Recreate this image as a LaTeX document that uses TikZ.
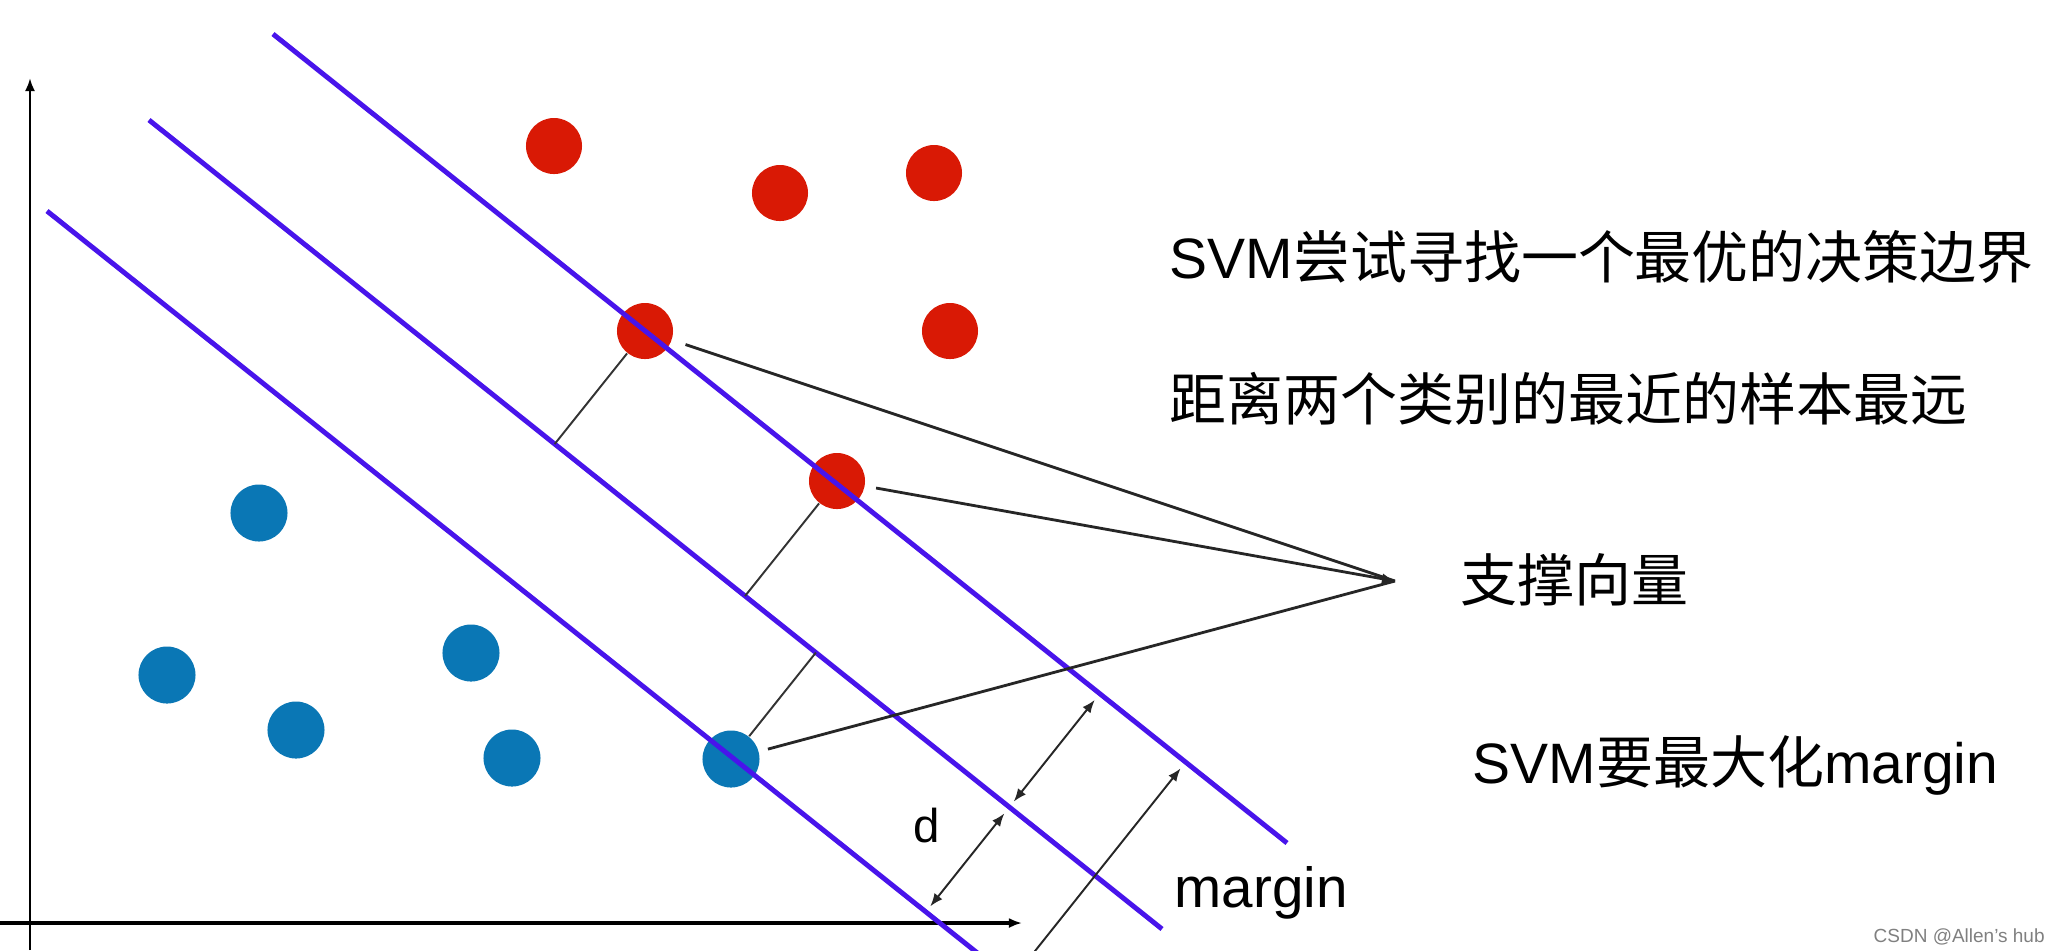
\documentclass[tikz,border=0pt]{standalone}
\usepackage{fontspec}
\setmainfont{Liberation Sans}
\newfontfamily\cjk{Noto Sans CJK SC}
\usetikzlibrary{positioning, arrows.meta, calc}

\definecolor{svred}{RGB}{217,25,5}
\definecolor{svblue}{RGB}{10,119,181}
\definecolor{bline}{RGB}{72,20,235}

\begin{document}
\begin{tikzpicture}[x=0.01cm, y=-0.01cm,
    reddot/.style={circle, fill=svred, minimum size=5.6mm, inner sep=0},
    bluedot/.style={circle, fill=svblue, minimum size=5.7mm, inner sep=0},
    bound/.style={bline, line width=1.4pt},
    foot/.style={black!80, line width=0.55pt},
    pointer/.style={black!85, line width=0.8pt},
    gap/.style={black!85, line width=0.55pt, {Latex[length=1.3mm,width=1mm]}-{Latex[length=1.3mm,width=1mm]}, shorten <=0.07cm, shorten >=0.08cm},
    axis/.style={black, line width=0.7pt, -{Latex[length=1.3mm,width=1mm]}},
    txt/.style={inner sep=0, anchor=base west, font=\fontsize{16.2pt}{19pt}\selectfont}]
    \clip (0,0) rectangle (2050,950);
    \fill[white] (0,0) rectangle (2050,950);

    % Axes
    \coordinate (o) at (30,950);
    \coordinate (ytop) at (30,78);
    \coordinate (xl) at (0,923);
    \coordinate (xr) at (1022,923);
    \draw[axis] (o) -- (ytop);
    \draw[axis, line width=0.9pt] (xl) -- (xr);

    % Samples
    \node[reddot] (r1) at (554,146) {};
    \node[reddot] (r2) at (780,193) {};
    \node[reddot] (r3) at (934,173) {};
    \node[reddot] (r4) at (950,331) {};
    \node[reddot] (sv1) at (645,331) {};
    \node[reddot] (sv2) at (837,481) {};
    \node[bluedot] (b1) at (259,513) {};
    \node[bluedot] (b2) at (167,675) {};
    \node[bluedot] (b3) at (471,653) {};
    \node[bluedot] (b4) at (296,730) {};
    \node[bluedot] (b5) at (512,758) {};
    \node[bluedot] (sv3) at (731,759) {};

    % Boundary and margins
    \coordinate (a1) at (273,34);
    \coordinate (a2) at (1287,843);
    \coordinate (m1) at (149,120);
    \coordinate (m2) at (1162,929);
    \coordinate (c1) at (47,211);
    \coordinate (c2) at (990,963);
    \draw[bound] (a1) -- (a2);
    \draw[bound] (m1) -- (m2);
    \draw[bound] (c1) -- (c2);

    % Feet on the boundary
    \coordinate (f1) at ($(m1)!(sv1)!(m2)$);
    \coordinate (f2) at ($(m1)!(sv2)!(m2)$);
    \coordinate (f3) at ($(m1)!(sv3)!(m2)$);
    \draw[foot] (sv1) -- (f1);
    \draw[foot] (sv2) -- (f2);
    \draw[foot] (sv3) -- (f3);

    % Support vector pointers
    \coordinate (tip) at (1395,581);
    \draw[pointer, shorten <=0.14cm] (sv1) -- (tip);
    \draw[pointer, shorten <=0.11cm, -{Latex[length=1.3mm,width=1.1mm]}] (sv2) -- (tip);
    \draw[pointer, shorten <=0.09cm] (sv3) -- (tip);

    % Distances
    \coordinate (d0) at ($(c1)!0.932!(c2)$);
    \coordinate (d1) at ($(m1)!(d0)!(m2)$);
    \coordinate (d2) at ($(a1)!(d1)!(a2)$);
    \coordinate (g0) at ($(c1)!1.023!(c2)$);
    \coordinate (g1) at ($(a1)!(g0)!(a2)$);
    \draw[gap] (d0) -- (d1);
    \draw[gap] (d1) -- (d2);
    \draw[gap] (g0) -- (g1);

    % Texts
    \node[txt] (goal1) at (1169,278) {SVM{\cjk 尝试寻找一个最优的决策边界}};
    \node[txt] (goal2) at (1169,420) {\cjk 距离两个类别的最近的样本最远};
    \node[txt] (svtext) at (1460,601) {\cjk 支撑向量};
    \node[txt] (maxm) at (1472,783) {SVM{\cjk 要最大化}margin};
    \node[txt, font=\fontsize{16.1pt}{19pt}\selectfont] (mlabel) at (1174,907) {margin};
    \node[txt, font=\fontsize{13.5pt}{16pt}\selectfont] (dlabel) at (913,842) {d};
    \node[txt, font=\fontsize{5.4pt}{6pt}\selectfont, text=gray] (mark) at (1873,942) {CSDN @Allen’s hub};
\end{tikzpicture}
\end{document}
